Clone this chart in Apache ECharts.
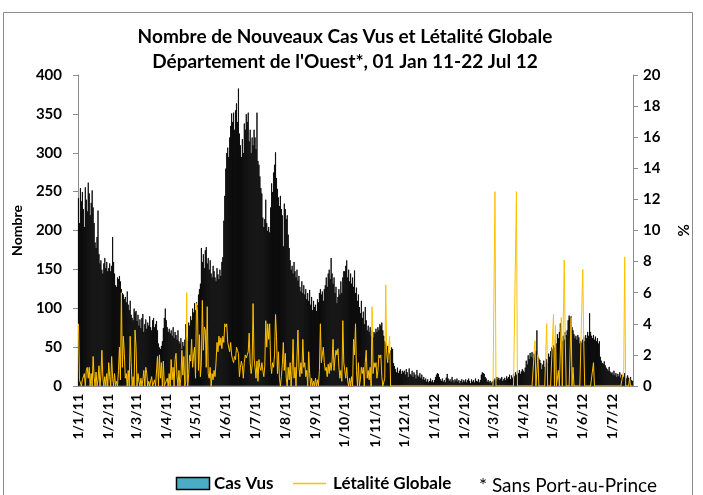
<!DOCTYPE html>
<html>
<head>
<meta charset="utf-8">
<script src="https://cdn.jsdelivr.net/npm/echarts@6/dist/echarts.min.js"></script>
<style>
html,body{margin:0;padding:0;background:#fff;}
#c{width:703px;height:495px;}
</style>
</head>
<body>
<div id="c"></div>
<script>
// Start date and number of days (01 Jan 2011 - 22 Jul 2012)
const startDate = [2011, 0, 1];
const nDays = 569;

// Daily new cases seen (Cas Vus), 2011, one line per month
const casVus2011 = [
  242,210,255,238,250,228,205,256,240,225,262,248,220,236,252,230,210,185,178,192,226,170,158,162,150,145,158,165,152,160,148, // Jan
  152,158,148,155,192,160,145,130,128,140,138,142,135,125,120,118,112,115,108,122,105,98,110,92,88,85,100,95, // Feb
  97,84,92,78,86,75,88,93,70,80,86,74,82,78,90,76,72,85,88,76,80,84,72,55,50,48,52,58,75,88,100, // Mar
  85,76,70,74,68,72,65,76,62,70,66,60,72,58,55,62,48,57,52,60,80,63,58,82,78,90,85,100,95,107, // Apr
  98,108,104,118,125,132,178,160,170,152,175,179,158,165,150,162,145,140,155,148,140,135,152,144,138,150,142,160,166,213,245, // May
  280,300,307,295,320,335,351,340,352,330,355,364,340,383,325,310,295,318,300,338,330,350,340,352,315,330,300,320,310,330, // Jun
  320,305,352,290,285,270,255,248,217,205,215,240,210,200,205,198,230,261,250,275,285,301,268,254,243,232,245,228,220,180,235, // Jul
  228,215,220,195,178,162,150,155,145,160,148,140,150,136,142,128,122,135,120,130,118,125,112,120,110,124,105,115,98,110,102, // Aug
  105,97,112,108,120,125,118,122,110,125,130,140,128,145,150,138,165,145,132,140,120,128,107,115,125,118,135,120,140,148, // Sep
  148,155,162,140,150,135,145,132,140,128,149,120,127,110,118,102,94,110,88,96,80,102,85,72,78,70,76,65,72,63,70, // Oct
  68,74,70,76,72,80,78,82,72,65,58,55,48,52,44,42,46,50,48,30,26,22,18,24,17,20,22,16,20,18, // Nov
  20,15,22,18,12,23,16,14,20,12,18,15,10,21,14,12,17,11,15,9,12,8,10,6,9,5,7,10,6,8,5 // Dec
];
// Daily new cases seen (Cas Vus), 2012
const casVus2012 = [
  8,12,15,17,16,12,9,7,10,6,8,5,11,16,10,7,9,6,12,8,5,9,7,10,6,8,4,7,9,5,8, // Jan
  6,9,5,8,10,7,4,9,6,8,5,10,7,6,9,5,8,15,18,17,16,12,10,6,8,5,7,4,6, // Feb
  6,8,10,7,12,9,11,8,10,12,7,9,11,8,13,10,12,15,9,14,11,16,13,18,15,20,17,21,16,19,22, // Mar
  20,18,24,33,28,40,35,43,38,44,36,42,40,45,72,38,36,34,30,22,28,33,25,31,35,30,42,38,45,50, // Apr
  48,53,50,60,55,67,62,70,81,62,58,65,60,70,66,72,85,91,88,90,76,72,67,62,65,60,66,63,55,58,56, // May
  60,64,58,66,62,70,65,94,70,65,62,66,60,64,58,62,55,58,38,33,30,29,32,27,24,22,20,25,19,17, // Jun
  18,15,20,14,17,12,16,13,18,11,15,14,12,17,13,10,14,11,9,12,8,7 // Jul
];

// Daily global lethality (%), 2011
const letalite2011 = [
  4.0,0.4,0.5,0,0.4,0.3,0.8,0,1.0,1.2,0.5,1.2,0,0.8,0,1.9,0.6,0,0.9,0,0.4,1.3,0,0.7,2.3,0.5,0,0.6,0,0.8,0, // Jan
  1.5,0.6,0,1.9,0.5,0,0.8,0,0.3,0,1.0,2.5,0.4,6.0,1.2,3.2,2.1,0.5,0.8,0,1.0,0,3.2,1.5,0,0.6,0,3.6, // Feb
  2.5,0,0.8,0.3,0,0.5,0,0.4,1.0,0,1.2,0.8,0,0.3,0,0,0.6,0,0,0.4,0,0,1.9,0,2.0,0.5,1.5,0,1.6,0,0, // Mar
  0,0.5,0,0.8,0,1.7,0.4,1.2,0,1.7,2.1,0.6,0,1.0,0,0.5,2.3,0.7,1.9,0,0.3,6.0,0,0.8,2.0,1.6,3.0,1.2,2.0,2.5, // Apr
  0.5,5.3,4.9,1.0,3.3,0.6,1.5,5.5,2.3,3.8,3.6,1.2,5.1,0.8,0.5,1.2,0,0.8,0.4,1.0,0.6,1.5,2.8,2.2,3.2,2.6,3.1,2.4,3.2,2.8,4.0, // May
  3.8,4.0,2.8,2.5,2.2,2.8,2.0,1.7,1.5,1.9,1.7,2.5,2.3,2.1,0.6,1.2,1.6,1.3,0.5,1.5,2.0,1.8,2.0,2.2,3.4,1.5,0.8,1.3,5.3,1.8, // Jun
  1.2,0.5,1.6,0.3,1.7,1.2,1.0,1.5,1.0,0.6,1.3,4.2,2.5,4.0,3.0,4.0,1.5,0.8,1.5,1.2,2.0,4.6,3.2,0.8,2.2,0.5,0,0.6,1.4,2.8,1.0, // Jul
  2.1,0.5,0,1.2,0.4,1.5,0,1.0,3.0,0.5,1.2,0,1.8,3.6,1.2,0.6,1.5,0.8,3.0,1.2,1.5,0.6,1.0,0,2.2,0.8,0,0.5,0,0.3,0, // Aug
  0.5,0,0.4,0,1.0,4.0,1.5,2.0,2.5,1.5,1.0,1.2,0.6,1.4,0.8,1.5,1.0,1.6,3.0,1.0,1.8,2.3,2.0,2.4,1.2,0.5,1.0,0.3,4.2,1.5, // Sep
  1.0,0.5,1.2,0.3,0,0.5,0,0.6,0,3.0,2.0,4.0,1.0,0,1.5,0,0.4,1.2,0.8,1.2,0,1.5,2.3,0.5,1.0,0.4,1.2,0,5.1,0.8,1.5, // Oct
  1.2,1.5,0.5,1.0,2.0,1.8,2.0,0.6,0,0,0.5,6.5,2.1,1.5,2.5,3.2,0,0,0,0,0,0,0,0,0,0,0,0,0,0, // Nov
  0,0,0,0,0,0,0,0,0,0,0,0,0,0,0,0,0,0,0,0,0,0,0,0,0,0,0,0,0,0,0 // Dec
];
// Daily global lethality (%), 2012
const letalite2012 = [
  0,0,0,0,0,0,0,0,0,0,0,0,0,0,0,0,0,0,0,0,0,0,0,0,0,0,0,0,0,0,0, // Jan
  0,0,0,0,0,0,0,0,0,0,0,0,0,0,0,0,0,0,0,0,0,0,0,0,0,0,0,0,0, // Feb
  0,0,12.5,0,0,0,0,0,0,0,0,0,0,0,0,0,0,0,0,0,0,0,0,0,12.5,0,0,0,0,0,0, // Mar
  0,0,0,0,0,0,0,0,0,0,0,0,2.9,0,0,2.0,0,0,0,0,0,0,0,0,4.0,0,0,0,0,0, // Apr
  0,4.6,0,3.9,0,0,1.0,0,0,4.4,0,0,8.1,3.2,0,0,0,0,0,4.4,0,1.2,0,0,0,0,0,0,0,0,0, // May
  7.5,2.8,0,0,0,0,0,0,0,0,0,1.5,0,0,0,0,0,0,0,0,0,0,0,0,0,0,0,0,0,0, // Jun
  0,0,0,0,0,0,0,0,0,0,0,0,1.0,8.3,0,0,0,0,0.5,0,0,0 // Jul
];

const seriesNames = ['Cas Vus', 'Létalité Globale'];
const titleLines = ['Nombre de Nouveaux Cas Vus et Létalité Globale', "Département de l'Ouest*, 01 Jan 11-22 Jul 12"];
const footNote = '* Sans Port-au-Prince';

// categories: d/m/yy
const categories = [];
for (let i = 0; i < nDays; i++) {
  const d = new Date(Date.UTC(startDate[0], startDate[1], startDate[2] + i));
  categories.push(d.getUTCDate() + '/' + (d.getUTCMonth() + 1) + '/' + String(d.getUTCFullYear()).slice(2));
}
const casVus = casVus2011.concat(casVus2012);
const letalite = letalite2011.concat(letalite2012);

const FONT = 'Lato';
const BAR_BLACK = '#000000';
const LINE_GOLD = '#FFC000';
const chart = echarts.init(document.getElementById('c'), null, {renderer: 'canvas'});
chart.setOption({
  animation: false,
  backgroundColor: '#fff',
  textStyle: {fontFamily: FONT},
  grid: {left: 78, right: 70, top: 75, bottom: 109, containLabel: false},
  legend: {show: false},
  graphic: [
    {type: 'rect', shape: {x: 3.5, y: 12.5, width: 689, height: 500}, style: {fill: 'none', stroke: '#8c8c8c', lineWidth: 1}, silent: true},
    {type: 'text', x: 345, y: 24, style: {text: titleLines.join('\n'), fontFamily: FONT, fontWeight: 'bold', fontSize: 19, lineHeight: 25, fill: '#000', align: 'center', verticalAlign: 'top'}},
    // legend
    {type: 'rect', shape: {x: 176.5, y: 477.5, width: 33, height: 12}, style: {fill: '#4BACC6', stroke: '#000', lineWidth: 1.5}},
    {type: 'text', x: 214, y: 484, style: {text: seriesNames[0], fontFamily: FONT, fontWeight: 'bold', fontSize: 17, fill: '#000', align: 'left', verticalAlign: 'middle'}},
    {type: 'line', shape: {x1: 293, y1: 483.5, x2: 326, y2: 483.5}, style: {stroke: LINE_GOLD, lineWidth: 1.5}},
    {type: 'text', x: 333, y: 484, style: {text: seriesNames[1], fontFamily: FONT, fontWeight: 'bold', fontSize: 17, fill: '#000', align: 'left', verticalAlign: 'middle'}},
    {type: 'text', x: 479, y: 486, style: {text: footNote, fontFamily: FONT, fontSize: 19, fill: '#000', align: 'left', verticalAlign: 'middle'}}
  ],
  xAxis: {
    type: 'category', data: categories, boundaryGap: true,
    axisLine: {lineStyle: {color: '#8c8c8c', width: 1}},
    axisTick: {show: false},
    axisLabel: {
      rotate: 90, margin: 8, color: '#000', fontFamily: FONT, fontWeight: 'bold', fontSize: 14,
      interval: function (idx, val) { return val.indexOf('1/') === 0; }
    },
    splitLine: {show: false}
  },
  yAxis: [
    {
      type: 'value', min: 0, max: 400, interval: 50, name: 'Nombre', nameLocation: 'middle', nameRotate: 90, nameGap: 54,
      nameTextStyle: {fontFamily: FONT, fontWeight: 'bold', fontSize: 14, color: '#000'},
      axisLine: {show: true, lineStyle: {color: '#8c8c8c'}},
      axisTick: {show: true, length: 5, lineStyle: {color: '#8c8c8c'}},
      axisLabel: {color: '#000', fontFamily: FONT, fontWeight: 'bold', fontSize: 15, margin: 16},
      splitLine: {show: false}
    },
    {
      type: 'value', min: 0, max: 20, interval: 2, name: '%', nameLocation: 'middle', nameRotate: -90, nameGap: 42,
      nameTextStyle: {fontFamily: FONT, fontWeight: 'bold', fontSize: 15, color: '#000'},
      axisLine: {show: true, lineStyle: {color: '#8c8c8c'}},
      axisTick: {show: true, length: 5, lineStyle: {color: '#8c8c8c'}},
      axisLabel: {color: '#000', fontFamily: FONT, fontWeight: 'bold', fontSize: 15, margin: 10},
      splitLine: {show: false}
    }
  ],
  series: [
    {name: seriesNames[0], type: 'bar', data: casVus, yAxisIndex: 0, barCategoryGap: '0%', barGap: '0%',
     itemStyle: {color: BAR_BLACK, borderColor: BAR_BLACK, borderWidth: 0.8}, z: 2},
    {name: seriesNames[1], type: 'line', data: letalite, yAxisIndex: 1, symbol: 'none', showSymbol: false,
     lineStyle: {color: LINE_GOLD, width: 1}, itemStyle: {color: LINE_GOLD}, z: 3}
  ]
});
</script>
</body>
</html>
